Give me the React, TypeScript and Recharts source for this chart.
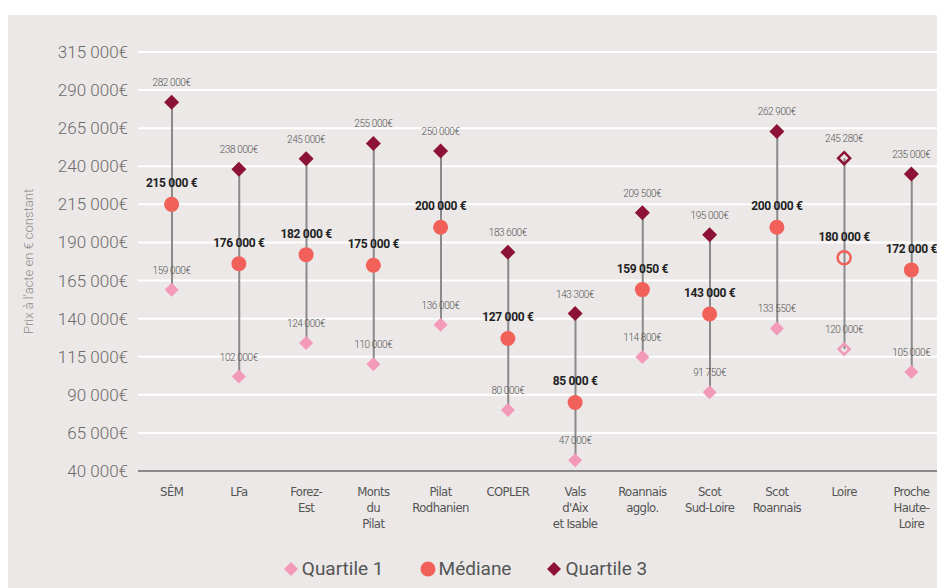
import { ComposedChart, Bar, Line, XAxis, YAxis, CartesianGrid, Legend } from 'recharts'

const categories = [
  'SÊM',
  'LFa',
  'Forez-\nEst',
  'Monts\ndu\nPilat',
  'Pilat\nRodhanien',
  'COPLER',
  "Vals\nd'Aix\net Isable",
  'Roannais\nagglo.',
  'Scot\nSud-Loire',
  'Scot\nRoannais',
  'Loire',
  'Proche\nHaute-\nLoire',
]
const quartile1 = [159000, 102000, 124000, 110000, 136000, 80000, 47000, 114800, 91750, 133550, 120000, 105000]
const mediane = [215000, 176000, 182000, 175000, 200000, 127000, 85000, 159050, 143000, 200000, 180000, 172000]
const quartile3 = [282000, 238000, 245000, 255000, 250000, 183600, 143300, 209500, 195000, 262900, 245280, 235000]
// Loire is drawn with open markers
const hollow = [false, false, false, false, false, false, false, false, false, false, true, false]
const yTicks = [40000, 65000, 90000, 115000, 140000, 165000, 190000, 215000, 240000, 265000, 290000, 315000]

const C_Q1 = '#f39ab8'
const C_MED = '#f2605a'
const C_Q3 = '#8c1238'
const BG = '#ebe8e7'

const data = categories.map((name, i) => ({
  name,
  q1: quartile1[i],
  med: mediane[i],
  q3: quartile3[i],
  range: [quartile1[i], quartile3[i]],
  hollow: hollow[i],
}))

const thousands = (n: number) => n.toString().replace(/\B(?=(\d{3})+(?!\d))/g, ' ')

const diamondDot = (color: string, r: number) => (props: any) => {
  const { cx, cy, payload, index } = props
  if (cx == null || cy == null) return <g key={index} />
  const open = payload.hollow
  const s = open ? r - 1.5 : r
  return (
    <path
      key={index}
      d={`M${cx},${cy - s}L${cx + s},${cy}L${cx},${cy + s}L${cx - s},${cy}Z`}
      fill={open ? 'none' : color}
      stroke={open ? color : 'none'}
      strokeWidth={2.5}
    />
  )
}

const circleDot = (props: any) => {
  const { cx, cy, payload, index } = props
  if (cx == null || cy == null) return <g key={index} />
  const open = payload.hollow
  return (
    <circle
      key={index}
      cx={cx}
      cy={cy}
      r={open ? 6.5 : 7.5}
      fill={open ? 'none' : C_MED}
      stroke={open ? C_MED : 'none'}
      strokeWidth={2.5}
    />
  )
}

const smallLabel = (props: any) => {
  const { x, y, value, index } = props
  return (
    <text key={index} x={x} y={y - 16} textAnchor="middle" fontSize={10} fill="#555" letterSpacing={-0.4} fontFamily="Roboto" fontWeight={300}>
      {thousands(value)}€
    </text>
  )
}

const medLabel = (props: any) => {
  const { x, y, value, index } = props
  return (
    <text key={index} x={x} y={y - 17} textAnchor="middle" fontSize={12} fill="#222" fontWeight={700} letterSpacing={-0.3} fontFamily="Roboto">
      {thousands(value)} €
    </text>
  )
}

const XTick = ({ x, y, payload }: any) => {
  const lines = String(payload.value).split('\n')
  return (
    <text x={x} y={y + 25} textAnchor="middle" fontSize={13} fill="#555" fontFamily="'Liberation Sans Narrow', 'DejaVu Sans Condensed', sans-serif" letterSpacing={-0.6}>
      {lines.map((l, i) => (
        <tspan key={i} x={x} dy={i === 0 ? 0 : 16}>{l}</tspan>
      ))}
    </text>
  )
}

const Diamond = ({ color }: { color: string }) => (
  <svg width={14} height={14} style={{ marginRight: 4 }}>
    <path d="M7,0L14,7L7,14L0,7Z" fill={color} />
  </svg>
)

const LegendBox = () => (
  <div style={{ display: 'flex', justifyContent: 'center', alignItems: 'center', fontFamily: 'Roboto', fontSize: 19, color: '#555', paddingRight: 22 }}>
    <span style={{ display: 'flex', alignItems: 'center', marginRight: 36 }}>
      <Diamond color={C_Q1} />Quartile 1
    </span>
    <span style={{ display: 'flex', alignItems: 'center', marginRight: 36 }}>
      <svg width={16} height={16} style={{ marginRight: 3 }}>
        <circle cx={8} cy={8} r={7.5} fill={C_MED} />
      </svg>
      Médiane
    </span>
    <span style={{ display: 'flex', alignItems: 'center' }}>
      <Diamond color={C_Q3} />Quartile 3
    </span>
  </div>
)

export default function App() {
  return (
    <div style={{ width: 937, paddingTop: 7 }}>
      <div style={{ width: 937, height: 573, background: BG }}>
        <ComposedChart width={937} height={573} data={data} margin={{ top: 37, right: 0, left: 0, bottom: 1 }}>
          <CartesianGrid vertical={false} stroke="#ffffff" strokeWidth={2} />
          <XAxis
            dataKey="name"
            interval={0}
            height={86}
            tick={<XTick />}
            tickLine={false}
            tickSize={0}
            tickMargin={0}
            axisLine={{ stroke: '#8a8a8a', strokeWidth: 2 }}
          />
          <YAxis
            width={130}
            domain={[40000, 315000]}
            ticks={yTicks}
            interval={0}
            allowDataOverflow
            axisLine={false}
            tickLine={false}
            tickSize={0}
            tickMargin={10}
            tickFormatter={(v: number) => `${thousands(v)}€`}
            tick={{ fontSize: 17, fill: '#6b6b6b', fontFamily: 'Roboto', fontWeight: 300 }}
            label={{
              value: "Prix à l'acte en € constant",
              angle: -90,
              position: 'insideLeft',
              offset: 20,
              style: { textAnchor: 'middle', fontSize: 13, fill: '#8a8a8a', fontFamily: 'Roboto', fontWeight: 300 },
            }}
          />
          <Legend verticalAlign="bottom" height={30} content={<LegendBox />} />
          <Bar dataKey="range" barSize={2} fill="#8a8a8a" isAnimationActive={false} legendType="none" />
          <Line dataKey="q1" name="Quartile 1" stroke="none" dot={diamondDot(C_Q1, 7)} activeDot={false} label={smallLabel} isAnimationActive={false} />
          <Line dataKey="med" name="Médiane" stroke="none" dot={circleDot} activeDot={false} label={medLabel} isAnimationActive={false} />
          <Line dataKey="q3" name="Quartile 3" stroke="none" dot={diamondDot(C_Q3, 7.5)} activeDot={false} label={smallLabel} isAnimationActive={false} />
        </ComposedChart>
      </div>
    </div>
  )
}
